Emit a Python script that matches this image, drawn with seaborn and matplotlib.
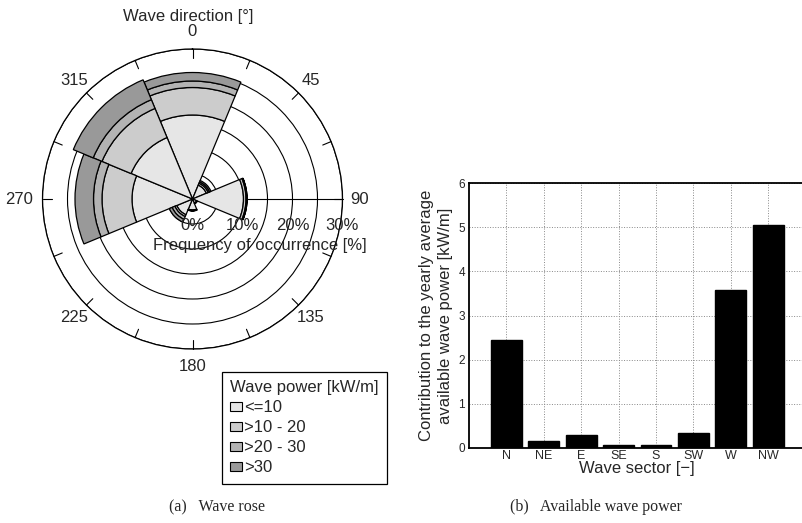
import numpy as np
import pandas as pd
import matplotlib
matplotlib.use("Agg")
import matplotlib.pyplot as plt
from matplotlib.patches import Patch
from matplotlib import transforms
import seaborn as sns

# ---------------- data ----------------
sectors = ["N", "NE", "E", "SE", "S", "SW", "W", "NW"]
sector_angles_deg = [0, 45, 90, 135, 180, 225, 270, 315]
# frequency of occurrence [%] per wave-power class (stacked)
freq_le10 = [16.8, 3.0, 10.2, 0.9, 2.2, 3.4, 12.1, 13.3]
freq_10_20 = [5.5, 0.4, 0.5, 0.1, 0.1, 0.4, 6.0, 6.3]
freq_20_30 = [1.3, 0.3, 0.2, 0.0, 0.05, 0.6, 1.7, 1.9]
freq_gt30 = [1.7, 0.3, 0.0, 0.0, 0.05, 0.6, 3.7, 4.3]
band_labels = ["<=10", ">10 - 20", ">20 - 30", ">30"]
band_colors = ["#e6e6e6", "#cccccc", "#b3b3b3", "#999999"]
direction_labels = ["0", "45", "90", "135", "180", "225", "270", "315"]
ring_values = [5, 10, 15, 20, 25, 30]
pct_labels = [0, 10, 20, 30]
# contribution to yearly average available wave power [kW/m]
power = [2.45, 0.15, 0.28, 0.05, 0.07, 0.33, 3.57, 5.05]

# ---------------- style ----------------
sns.set_style("white")
plt.rcParams["font.family"] = ["Liberation Sans", "DejaVu Sans"]
FS = 12

W, H = 802, 523
fig = plt.figure(figsize=(W / 100, H / 100), dpi=100)

# ---------------- wave rose ----------------
cx, cy, R = 192.5, 199.0, 150.0
axp = fig.add_axes([(cx - R) / W, (H - cy - R) / H, 2 * R / W, 2 * R / H],
                   projection="polar")
axp.set_theta_zero_location("N")
axp.set_theta_direction(-1)
theta = np.deg2rad(sector_angles_deg)
bottom = np.zeros(len(sectors))
for vals, col, lab in zip([freq_le10, freq_10_20, freq_20_30, freq_gt30],
                          band_colors, band_labels):
    vals = np.array(vals)
    axp.bar(theta, vals, width=np.deg2rad(45), bottom=bottom, color=col,
            edgecolor="black", linewidth=0.9, zorder=2, align="center")
    bottom = bottom + vals
axp.set_ylim(0, 30)
axp.set_yticks(ring_values)
axp.set_yticklabels([])
axp.set_xticks([np.pi / 2])
axp.set_xticklabels([])
axp.set_axisbelow(True)
axp.grid(True, color="black", linewidth=0.8, linestyle="-")
axp.spines["polar"].set_color("black")
axp.spines["polar"].set_linewidth(0.9)
axp.tick_params(length=0)

for a in np.arange(0, 360, 22.5):
    th = np.deg2rad(a)
    axp.plot([th, th], [28.2, 30], color="black", lw=0.8, clip_on=False, zorder=3)

for a, lab in zip(sector_angles_deg, direction_labels):
    r = 34.6 if lab == "270" else 33.5
    axp.text(np.deg2rad(a), r, lab, ha="center", va="center", fontsize=FS,
             clip_on=False)

off = transforms.offset_copy(axp.transData, fig=fig, x=0, y=-26, units="dots")
for v in pct_labels:
    axp.text(np.pi / 2, v, f"{v}%", transform=off, ha="center", va="center",
             fontsize=FS, clip_on=False, zorder=5)

fig.text(188 / W, 1 - 16 / H, "Wave direction [°]", ha="center", va="center",
         fontsize=FS)
fig.text(260 / W, 1 - 245 / H, "Frequency of occurrence [%]", ha="center",
         va="center", fontsize=FS)

handles = [Patch(facecolor=c, edgecolor="black", linewidth=0.8, label=l)
           for c, l in zip(band_colors, band_labels)]
leg = fig.legend(handles=handles, title="Wave power [kW/m]", loc="upper left",
                 bbox_to_anchor=(222 / W, 1 - 372 / H), frameon=True,
                 fancybox=False, edgecolor="black", framealpha=1,
                 fontsize=FS, title_fontsize=FS, handlelength=0.7,
                 handleheight=0.42, handletextpad=0.1, labelspacing=0.3,
                 borderpad=0.5, borderaxespad=0, alignment="left")
leg.get_frame().set_linewidth(0.9)

# ---------------- bar chart ----------------
bl, bt, bb = 469.0, 183.3, 447.7
axb = fig.add_axes([bl / W, (H - bb) / H, 336.6 / W, (bb - bt) / H])
df = pd.DataFrame({"sector": sectors, "power": power})
sns.barplot(data=df, x="sector", y="power", color="black", width=0.82,
            saturation=1, edgecolor="black", ax=axb)
axb.set_xlim(-1, 8)
axb.set_ylim(0, 6)
axb.set_yticks(range(0, 7))
axb.set_axisbelow(True)
axb.grid(True, linestyle=":", color="#888888", linewidth=0.7)
for s in axb.spines.values():
    s.set_color("black")
    s.set_linewidth(1.3)
axb.tick_params(axis="y", labelsize=8.5, direction="in", length=3, pad=3)
axb.tick_params(axis="x", labelsize=9, direction="in", length=3, pad=2)
axb.set_ylabel("Contribution to the yearly average\navailable wave power [kW/m]",
               fontsize=FS, labelpad=4, linespacing=1.3)
axb.set_xlabel("Wave sector [\u2212]", fontsize=FS, labelpad=-1)

# ---------------- captions ----------------
serif = ["Liberation Serif", "DejaVu Serif"]
fig.text(217 / W, 1 - 507 / H, "(a)\u2002 Wave rose", ha="center", va="center",
         fontsize=11.5, family=serif)
fig.text(596 / W, 1 - 507 / H, "(b)\u2002 Available wave power", ha="center",
         va="center", fontsize=11.5, family=serif)

fig.savefig("out.png", dpi=100)
